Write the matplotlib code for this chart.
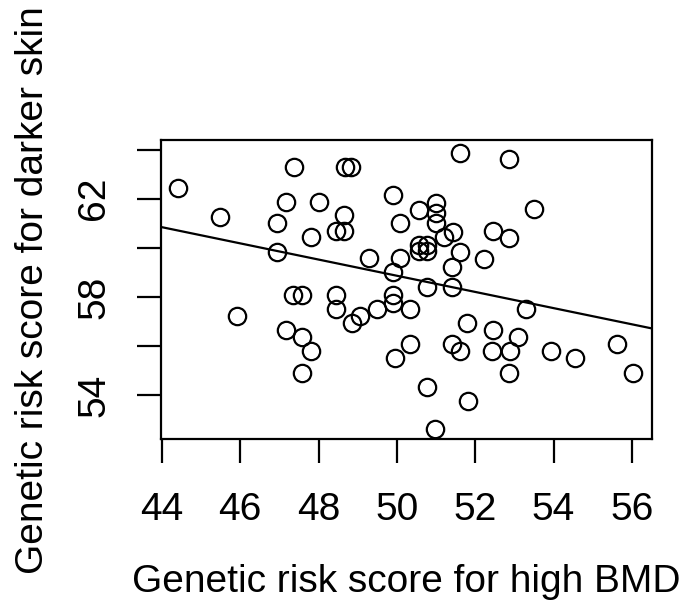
import matplotlib.pyplot as plt
import numpy as np

plt.rcParams['font.family'] = ['Liberation Sans', 'DejaVu Sans']

# genetic risk score for high BMD (x) and for darker skin (y)
bmd = [44.42, 45.48, 45.91, 46.94, 46.94, 47.17, 47.38, 47.80, 47.35, 47.58,
       47.17, 47.59, 47.80, 47.59, 48.01, 48.67, 48.84, 48.66, 48.44, 48.66,
       48.44, 48.44, 48.86, 49.05, 49.50, 49.29, 49.91, 50.08, 50.08, 49.91,
       49.91, 49.91, 49.95, 50.33, 50.33, 50.56, 50.99, 50.99, 50.99, 51.44,
       51.21, 50.56, 50.77, 50.56, 50.77, 51.61, 51.40, 52.23, 50.76, 51.40,
       51.61, 52.87, 53.51, 52.46, 52.87, 51.80, 53.29, 52.46, 53.10, 51.40,
       51.61, 52.44, 52.88, 53.93, 54.56, 55.63, 56.03, 52.87, 50.76, 51.82,
       50.97]
skin = [62.45, 61.27, 57.23, 61.02, 59.84, 61.88, 63.30, 60.43, 58.08, 58.08,
        56.65, 56.38, 55.80, 54.91, 61.88, 63.30, 63.30, 61.34, 60.70, 60.70,
        58.08, 57.51, 56.95, 57.23, 57.51, 59.57, 62.15, 61.02, 59.57, 59.03,
        58.08, 57.74, 55.50, 57.51, 56.08, 61.54, 61.84, 61.41, 61.00, 60.66,
        60.45, 60.11, 60.11, 59.88, 59.88, 59.84, 59.23, 59.54, 58.42, 58.42,
        63.87, 63.60, 61.57, 60.70, 60.41, 56.95, 57.51, 56.65, 56.38, 56.08,
        55.80, 55.80, 55.80, 55.80, 55.50, 56.08, 54.91, 54.91, 54.34, 53.76,
        52.61]

x_ticks = [44, 46, 48, 50, 52, 54, 56]
y_ticks = [54, 56, 58, 60, 62, 64]
y_labels = ['54', '', '58', '', '62', '']

fig = plt.figure(figsize=(6.85, 6.1), dpi=100)
ax = fig.add_axes([0.2346, 0.2798, 0.717, 0.4907])

ax.plot(bmd, skin, 'o', mfc='none', mec='black', ms=12.5, mew=1.6)

# least squares fit line
slope, intercept = np.polyfit(bmd, skin, 1)
xl = np.array([43.97, 56.51])
ax.plot(xl, intercept + slope * xl, color='black', lw=1.6)

ax.set_xlim(43.97, 56.51)
ax.set_ylim(52.2, 64.39)

for s in ax.spines.values():
    s.set_linewidth(1.6)

ax.set_xticks(x_ticks)
ax.set_yticks(y_ticks)
ax.set_yticklabels(y_labels, rotation=90, va='center')
ax.tick_params(length=17, width=1.6, labelsize=28, pad=18)
ax.tick_params(axis='x', pad=21)

ax.set_xlabel('Genetic risk score for high BMD', fontsize=28, labelpad=26)
ax.set_ylabel('Genetic risk score for darker skin', fontsize=28, labelpad=18)

plt.savefig('out.png', dpi=100)
